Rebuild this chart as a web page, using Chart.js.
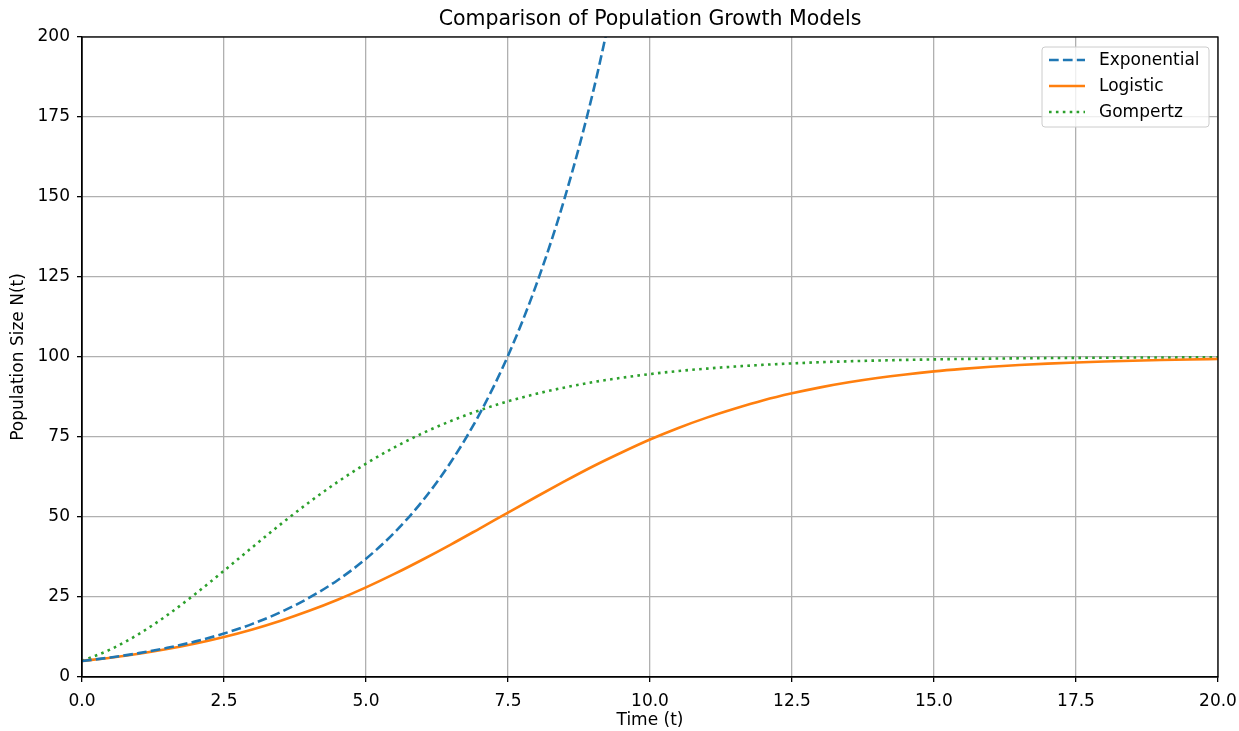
<!DOCTYPE html>
<html>
<head>
<meta charset="utf-8">
<script src="https://cdn.jsdelivr.net/npm/chart.js@4/dist/chart.umd.min.js"></script>
<style>
  html, body { margin: 0; padding: 0; background: #fff; }
  #wrap { width: 1239px; height: 731px; }
</style>
</head>
<body>
<div id="wrap"><canvas id="chart" width="1239" height="731"></canvas></div>
<script>
// values, every 0.5 on the time axis
const timePoints = [0, 0.5, 1, 1.5, 2, 2.5, 3, 3.5, 4, 4.5, 5, 5.5, 6, 6.5, 7, 7.5, 8, 8.5, 9, 9.5,
  10, 10.5, 11, 11.5, 12, 12.5, 13, 13.5, 14, 14.5, 15, 15.5, 16, 16.5, 17, 17.5, 18, 18.5, 19, 19.5, 20];

// exponential leaves the plot just after t = 9
const exponentialValues = [5.0, 6.1, 7.46, 9.11, 11.13, 13.59, 16.6, 20.28, 24.77, 30.25,
  36.95, 45.13, 55.12, 67.32, 82.22, 100.4, 122.7, 149.8, 183.0, 223.5];

const logisticValues = [5.0, 6.04, 7.28, 8.75, 10.49, 12.52, 14.87, 17.59, 20.68, 24.15,
  28.0, 32.21, 36.72, 41.46, 46.4, 51.38, 56.33, 61.18, 65.85, 70.15,
  74.2, 77.82, 81.05, 83.9, 86.48, 88.64, 90.51, 92.09, 93.43, 94.55,
  95.5, 96.28, 96.95, 97.48, 97.93, 98.3, 98.6, 98.85, 99.06, 99.23, 99.37];

const gompertzValues = [5.0, 8.6, 13.43, 19.32, 26.03, 33.22, 40.56, 47.77, 54.61, 60.94,
  66.67, 71.75, 76.21, 80.04, 83.34, 86.14, 88.5, 90.47, 92.15, 93.51,
  94.67, 95.61, 96.38, 97.02, 97.56, 98.0, 98.36, 98.66, 98.9, 99.09,
  99.26, 99.39, 99.5, 99.59, 99.67, 99.73, 99.78, 99.82, 99.85, 99.88, 99.9];

const seriesNames = ["Exponential", "Logistic", "Gompertz"];
const seriesColors = ["#1f77b4", "#ff7f0e", "#2ca02c"];
const seriesDashes = [[9.7, 4.2], [], [2.6, 4.3]];

const xTickMax = 20;
const yTickMax = 200;

const FONT = "'DejaVu Sans', sans-serif";

function toPoints(values) {
  return values.map((v, i) => ({ x: timePoints[i], y: v }));
}

const allValues = [exponentialValues, logisticValues, gompertzValues];

// legend drawn inside the plot, top right, plus the full frame around the axes
const framePlugin = {
  id: "frame",
  afterDraw(chart) {
    const ctx = chart.ctx;
    const a = chart.chartArea;
    ctx.save();
    ctx.strokeStyle = "#000";
    ctx.lineWidth = 1.3;
    ctx.strokeRect(a.left, a.top, a.right - a.left, a.bottom - a.top);

    const boxX = 1042, boxY = 47, boxW = 167, boxH = 80;
    ctx.fillStyle = "rgba(255,255,255,0.8)";
    ctx.strokeStyle = "#cccccc";
    ctx.lineWidth = 1;
    ctx.beginPath();
    ctx.roundRect(boxX, boxY, boxW, boxH, 3);
    ctx.fill();
    ctx.stroke();

    ctx.font = "17px " + FONT;
    ctx.textBaseline = "middle";
    ctx.textAlign = "left";
    seriesNames.forEach((name, i) => {
      const y = 60 + i * 26;
      ctx.strokeStyle = seriesColors[i];
      ctx.lineWidth = 2.6;
      ctx.lineCap = "butt";
      ctx.setLineDash(seriesDashes[i]);
      ctx.beginPath();
      ctx.moveTo(1049, y);
      ctx.lineTo(1085, y);
      ctx.stroke();
      ctx.setLineDash([]);
      ctx.fillStyle = "#000";
      ctx.fillText(name, 1099, y + 1);
    });
    ctx.restore();
  }
};

new Chart(document.getElementById("chart"), {
  type: "line",
  data: {
    datasets: seriesNames.map((name, i) => ({
      label: name,
      data: toPoints(allValues[i]),
      borderColor: seriesColors[i],
      borderWidth: 2.6,
      borderDash: seriesDashes[i],
      borderCapStyle: "butt",
      pointRadius: 0,
      fill: false,
      cubicInterpolationMode: "monotone",
      clip: 0
    }))
  },
  options: {
    responsive: false,
    animation: false,
    layout: { padding: { top: 0, right: 21, bottom: 0, left: 0 } },
    plugins: {
      legend: { display: false },
      tooltip: { enabled: false },
      title: {
        display: true,
        fullSize: false,
        text: "Comparison of Population Growth Models",
        color: "#000",
        font: { family: FONT, size: 20.5, weight: "normal" },
        padding: { top: 7, bottom: 5.4 }
      }
    },
    scales: {
      x: {
        type: "linear",
        min: 0,
        max: xTickMax,
        ticks: {
          stepSize: 2.5,
          color: "#000",
          font: { family: FONT, size: 17 },
          padding: 9,
          maxRotation: 0,
          callback: v => v.toFixed(1)
        },
        grid: { color: "#b0b0b0", lineWidth: 1.3, tickColor: "#000", tickLength: 5 },
        border: { color: "#000", width: 1.3 },
        title: {
          display: true,
          text: "Time (t)",
          color: "#000",
          font: { family: FONT, size: 17 },
          padding: { top: 4, bottom: 0 }
        },
        afterFit(scale) {
          scale.height = 54;
          scale.paddingLeft = 0;
          scale.paddingRight = 0;
        }
      },
      y: {
        min: 0,
        max: yTickMax,
        ticks: {
          stepSize: 25,
          color: "#000",
          font: { family: FONT, size: 17 },
          padding: 7
        },
        grid: { color: "#b0b0b0", lineWidth: 1.3, tickColor: "#000", tickLength: 5 },
        border: { color: "#000", width: 1.3 },
        title: {
          display: true,
          text: "Population Size N(t)",
          color: "#000",
          font: { family: FONT, size: 17 },
          padding: { top: 8, bottom: 6 }
        },
        afterFit(scale) {
          scale.width = 82;
          scale.paddingTop = 0;
          scale.paddingBottom = 0;
        }
      }
    }
  },
  plugins: [framePlugin]
});
</script>
</body>
</html>
